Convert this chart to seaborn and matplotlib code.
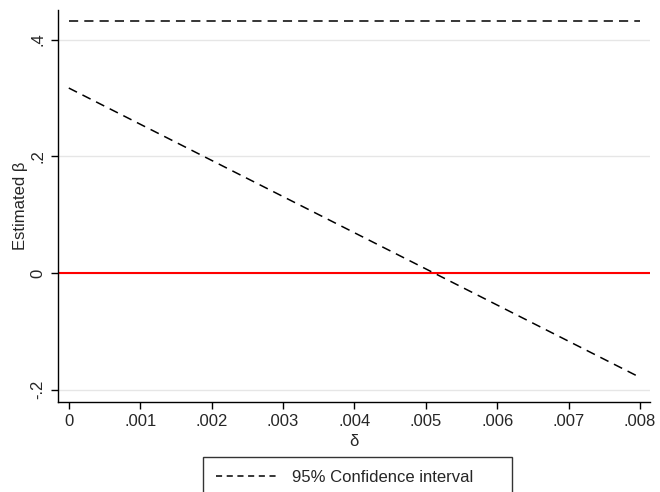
import matplotlib
matplotlib.use("Agg")
import matplotlib.pyplot as plt
from matplotlib.lines import Line2D
import seaborn as sns
import pandas as pd

delta = [0.0, 0.008]
ci_upper = [0.432, 0.432]
ci_lower = [0.317, -0.179]
x_ticks = [0, 0.001, 0.002, 0.003, 0.004, 0.005, 0.006, 0.007, 0.008]
x_labels = ["0", ".001", ".002", ".003", ".004", ".005", ".006", ".007", ".008"]
y_ticks = [-0.2, 0, 0.2, 0.4]
y_labels = ["-.2", "0", ".2", ".4"]

sns.set_style("white")
plt.rcParams["font.family"] = ["Liberation Sans", "DejaVu Sans"]

df = pd.DataFrame({"delta": delta, "upper": ci_upper, "lower": ci_lower})

fig = plt.figure(figsize=(6.6, 4.92), dpi=100)
ax = fig.add_axes([0.088, 0.183, 0.897, 0.797])

for y in y_ticks:
    ax.axhline(y, color="#e6e6e6", lw=1, zorder=0)
ax.axhline(0, color="red", lw=1.5, zorder=2)

dash = (0, (6, 4))
sns.lineplot(data=df, x="delta", y="upper", ax=ax, color="black", lw=1.1,
             linestyle=dash, legend=False)
sns.lineplot(data=df, x="delta", y="lower", ax=ax, color="black", lw=1.1,
             linestyle=dash, legend=False)

ax.set_xlim(-0.00015, 0.00814)
ax.set_ylim(-0.221, 0.451)
ax.set_xticks(x_ticks)
ax.set_xticklabels(x_labels)
ax.set_yticks(y_ticks)
ax.set_yticklabels(y_labels, rotation=90, va="center")
ax.tick_params(direction="out", length=5, width=1, color="black", labelsize=12,
               bottom=True, left=True, pad=4)
ax.set_xlabel("δ", fontsize=12, labelpad=3)
ax.set_ylabel("Estimated β", fontsize=12, labelpad=2)

for s in ["top", "right"]:
    ax.spines[s].set_visible(False)
for s in ["left", "bottom"]:
    ax.spines[s].set_color("black")
    ax.spines[s].set_linewidth(1)

# legend sample uses shorter dashes, like the original
ci_handle = Line2D([], [], color="black", lw=1.1, linestyle=(0, (4, 3)))
top = (492 - 457) / 492
leg = fig.legend([ci_handle], ["95% Confidence interval"], loc="upper left",
                 bbox_to_anchor=(203 / 660, top - 0.1, 309 / 660, 0.1), mode="expand",
                 ncol=1, fontsize=12, frameon=True, fancybox=False,
                 borderpad=0.75, handlelength=3.6, handletextpad=1.0,
                 borderaxespad=0)
leg.get_frame().set_edgecolor("black")
leg.get_frame().set_linewidth(1)

fig.savefig("out.png", dpi=100)
